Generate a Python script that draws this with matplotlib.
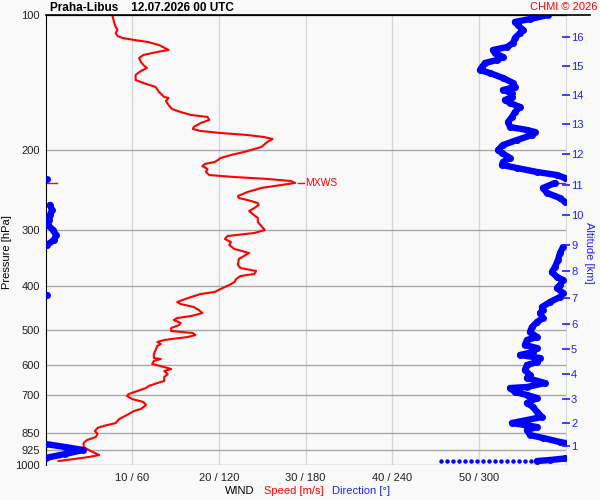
import numpy as np
import matplotlib

matplotlib.use("Agg")
import matplotlib.pyplot as plt
from matplotlib.lines import Line2D
from matplotlib.ticker import NullLocator, NullFormatter

plt.rcParams["font.family"] = ["Liberation Sans", "DejaVu Sans"]

# wind speed profile [hPa] / [m/s]
speed_p = [100.0, 105.3, 108.0, 109.6, 111.3, 112.5, 113.6, 114.8, 116.6, 119.6,
           120.8, 122.7, 124.6, 127.2, 129.2, 131.2, 133.2, 135.9, 139.5, 141.6,
           144.5, 148.3, 152.1, 152.9, 155.3, 158.5, 161.8, 164.3, 166.8, 168.5,
           171.1, 173.8, 177.4, 179.2, 181.0, 182.9, 184.8, 186.7, 188.6, 191.5,
           196.5, 201.6, 204.7, 207.9, 210.0, 212.2, 214.3, 216.5, 219.9, 223.3,
           226.8, 229.1, 231.4, 233.8, 236.2, 238.7, 242.3, 247.4, 252.5, 255.1,
           257.7, 261.7, 264.4, 268.5, 272.6, 276.8, 282.6, 288.4, 294.4, 300.5,
           305.1, 309.8, 314.6, 319.5, 324.4, 331.1, 338.0, 348.5, 359.4, 365.0,
           370.6, 376.3, 380.2, 386.1, 392.1, 398.1, 406.4, 412.6, 416.9, 423.3,
           429.9, 434.3, 438.8, 445.6, 452.5, 459.5, 466.6, 471.4, 476.2, 483.6,
           488.6, 496.1, 503.8, 509.0, 514.2, 519.5, 527.5, 533.0, 538.4, 544.0,
           555.2, 566.7, 578.4, 581.4, 587.4, 596.5, 605.7, 611.9, 618.2, 627.8,
           637.5, 650.7, 657.4, 667.5, 674.4, 684.8, 695.4, 702.6, 713.5, 724.5,
           735.7, 750.9, 758.7, 774.3, 790.4, 806.7, 819.1, 827.5, 840.3, 853.4,
           866.5, 879.9, 893.5, 912.0, 930.9, 950.1, 959.9, 969.8, 979.8]
speed = [7.7, 8.0, 8.3, 8.1, 8.3, 8.9, 10.2, 11.8, 13.1, 14.2,
         12.9, 11.3, 10.8, 11.0, 11.3, 11.7, 11.0, 10.4, 10.4, 11.3,
         12.7, 13.1, 13.7, 14.2, 13.9, 14.2, 14.6, 15.6, 16.8, 18.7,
         18.9, 17.9, 17.1, 17.0, 17.9, 20.2, 23.3, 25.2, 26.2, 25.6,
         24.9, 22.9, 21.4, 20.2, 19.9, 19.5, 18.4, 18.1, 18.7, 18.5,
         18.9, 21.8, 25.6, 28.3, 28.8, 27.2, 24.9, 23.3, 22.2, 22.3,
         23.3, 24.5, 24.6, 24.1, 23.5, 23.9, 24.5, 24.5, 24.9, 25.3,
         24.1, 21.0, 20.7, 21.4, 21.2, 21.8, 23.5, 22.3, 22.2, 22.5,
         24.3, 24.1, 22.5, 22.0, 21.8, 21.2, 20.2, 19.5, 17.9, 16.8,
         15.8, 15.2, 15.6, 17.1, 17.7, 18.1, 16.8, 15.2, 14.8, 15.6,
         15.4, 14.5, 14.5, 17.0, 17.3, 16.4, 13.7, 12.9, 13.3, 12.9,
         12.7, 12.5, 12.5, 13.3, 12.5, 12.3, 13.7, 14.5, 13.7, 14.1,
         13.7, 13.7, 12.9, 11.9, 11.6, 10.6, 9.6, 9.4, 10.0, 11.3,
         11.6, 11.0, 10.2, 9.4, 8.5, 8.1, 6.7, 6.0, 5.7, 6.0,
         5.8, 4.8, 4.4, 4.4, 5.2, 6.2, 5.0, 3.3, 1.5]

# wind direction profile [hPa] / [deg]
dir_p = [100.0, 102.1, 103.6, 105.3, 108.0, 109.6, 112.5, 115.4, 117.8, 119.6,
         121.5, 124.0, 125.9, 127.8, 130.5, 132.5, 134.6, 138.0, 141.6, 144.5,
         146.8, 149.1, 152.1, 154.5, 156.9, 160.1, 164.3, 168.5, 172.9, 177.4,
         180.1, 182.0, 184.8, 189.6, 194.5, 199.5, 202.6, 207.9, 212.2, 215.4,
         218.8, 223.3, 226.8, 230.3, 231.2, 236.2, 242.3, 248.6, 255.1, 260.4,
         264.4, 271.2, 278.3, 285.5, 292.9, 300.5, 308.3, 316.2, 324.4, 327.8,
         338.0, 350.3, 363.1, 372.5, 382.2, 388.1, 398.1, 404.3, 414.8, 419.0,
         423.3, 434.3, 445.6, 452.5, 459.5, 471.4, 481.1, 493.6, 506.4, 519.5,
         527.5, 541.2, 549.6, 560.9, 569.6, 578.4, 590.4, 599.5, 615.1, 631.0,
         640.8, 657.4, 671.0, 674.4, 688.3, 699.0, 709.8, 728.2, 743.3, 762.5,
         782.2, 794.4, 806.7, 823.4, 836.0, 857.7, 871.0, 889.0, 893.5, 898.1,
         912.0, 926.1, 945.3, 964.8, 967.0, 974.8, 979.8]
direction = [347.9, 335.4, 325.0, 327.1, 330.6, 328.5, 325.0, 323.7, 319.5, 309.8,
             311.2, 316.7, 312.6, 304.3, 302.2, 300.8, 307.7, 316.7, 323.7, 325.0,
             316.7, 323.0, 323.0, 318.1, 321.6, 328.5, 325.0, 323.0, 320.2, 321.6,
             333.3, 338.9, 336.8, 326.4, 316.7, 313.3, 316.0, 321.6, 316.7, 316.0,
             326.4, 340.3, 354.1, 359.7, 1.0, 352.7, 344.4, 347.2, 356.2, 359.7,
             3.1, 4.5, 3.1, 2.4, 1.7, 5.2, 7.3, 5.9, 1.0, 358.3,
             356.2, 354.8, 352.7, 350.6, 354.1, 358.3, 356.2, 354.1, 358.3, 0.7,
             356.2, 349.3, 343.7, 344.4, 342.4, 344.4, 340.3, 336.8, 335.4, 340.3,
             333.3, 331.9, 340.3, 337.5, 328.5, 342.4, 340.3, 333.3, 331.9, 335.4,
             333.3, 345.8, 333.3, 321.6, 325.0, 333.3, 340.3, 333.3, 337.5, 340.3,
             343.7, 333.3, 322.9, 340.3, 333.3, 335.4, 344.4, 356.2, 359.7, 0.0,
             13.5, 26.0, 13.5, 0.0, 359.7, 349.3, 340.3]

# surface level directions
surface_p = 979.8
surface_dir = [273.8, 278.0, 282.1, 286.3, 290.5, 294.6, 298.8, 302.9,
               307.0, 311.2, 315.3, 319.5, 323.6, 327.8, 332.0, 336.1]

pressure_ticks = [100, 200, 300, 400, 500, 600, 700, 850, 925, 1000]
speed_ticks = [10, 20, 30, 40, 50]
speed_labels = ["10 / 60", "20 / 120", "30 / 180", "40 / 240", "50 / 300"]
alt_km = list(range(1, 17))
alt_p = [907.4, 805.4, 713.5, 627.8, 553.2, 486.1, 426.2, 370.0,
         324.4, 278.3, 238.7, 204.0, 174.9, 150.6, 129.8, 111.7]

BG = "#f9f9f9"
RED = "#ff0000"
BLUE = "#0000ff"
LBLUE = "#2020ff"

fig = plt.figure(figsize=(6, 5), dpi=100, facecolor=BG)
ax = fig.add_axes([45.5 / 600, 35 / 500, 520 / 600, 450 / 500], facecolor=BG)
ax.set_yscale("log")
ax.set_xlim(0, 60)

# direction on its own 0-360 scale, altitude on the right
ax2 = ax.twiny()
ax3 = ax.twinx()

ax.set_ylim(1000, 100)
ax.yaxis.set_minor_locator(NullLocator())
ax.yaxis.set_minor_formatter(NullFormatter())
ax.set_yticks(pressure_ticks)
ax.set_yticklabels([str(p) for p in pressure_ticks])
ax.set_xticks(speed_ticks)
ax.set_xticklabels(speed_labels)
ax.tick_params(axis="both", which="both", length=0, labelsize=8, colors="#202020")
ax.tick_params(axis="y", pad=4)
ax.tick_params(axis="x", pad=6)
ax.set_axisbelow(True)
ax.grid(axis="y", which="major", color="#a8a8a8", lw=1.0)
ax.grid(axis="x", color="#d8d8d8", lw=1.0)
ax.spines["bottom"].set_visible(False)
ax.spines["right"].set_color("#d8d8d8")
ax.spines["left"].set_color("black")
ax.spines["top"].set_color("black")

# speed
ax.plot(speed, speed_p, color=RED, lw=1.5)

# max wind marker
imax = int(np.argmax(speed))
smax, pmax = speed[imax], speed_p[imax]
trans = ax.get_yaxis_transform()
ax.plot([0, 0.022], [pmax, pmax], color=RED, lw=1, transform=trans, clip_on=False)
ax.plot([0.978, 1.0], [pmax, pmax], color=RED, lw=1, transform=trans, clip_on=False)
ax.plot([smax + 0.3, smax + 1.0], [pmax, pmax], color=RED, lw=1)
ax.text(smax + 1.2, pmax, "MXWS", color=RED, fontsize=7.5, va="center", ha="left")

ax2.set_xlim(0, 360)
ax2.set_xticks([])
for s in ax2.spines.values():
    s.set_visible(False)

d = np.array(direction, dtype=float)
pp = np.array(dir_p, dtype=float)
breaks = np.where(np.abs(np.diff(d)) > 180)[0] + 1
d_plot = np.insert(d, breaks, np.nan)
p_plot = np.insert(pp, breaks, np.nan)
ax2.plot(d_plot, p_plot, color=BLUE, lw=4.6, marker="o", ms=5.0, mew=0,
         solid_capstyle="round", solid_joinstyle="round")
ax2.plot(surface_dir, [surface_p] * len(surface_dir), "o", color=BLUE, ms=3.2, mew=0)

ax3.set_yscale("log")
ax3.set_ylim(1000, 100)
ax3.yaxis.set_minor_locator(NullLocator())
ax3.yaxis.set_minor_formatter(NullFormatter())
ax3.set_yticks(alt_p)
ax3.set_yticklabels([str(a) for a in alt_km])
ax3.tick_params(axis="y", direction="inout", length=6, width=1.2, color=LBLUE,
                labelcolor=LBLUE, labelsize=8, pad=1)
for s in ax3.spines.values():
    s.set_visible(False)

# keep the shared pressure axis limits after twin setup
ax.set_ylim(1000, 100)

# extension of the top frame line
fig.add_artist(Line2D([45.5 / 600, 590 / 600], [1 - 15 / 500, 1 - 15 / 500],
                      color="black", lw=1.2))

fig.text(50 / 600, 1 - 8 / 500, "Praha-Libus    12.07.2026 00 UTC",
         fontsize=8.5, fontweight="bold", va="center", ha="left")
fig.text(597 / 600, 1 - 7 / 500, "CHMI \u00a9 2026", color=RED,
         fontsize=8, va="center", ha="right")
fig.text(7 / 600, 1 - 252 / 500, "Pressure [hPa]", rotation=90,
         fontsize=8, va="center", ha="center")
fig.text(589 / 600, 1 - 253 / 500, "Altitude [km]", rotation=270, color=LBLUE,
         fontsize=8, va="center", ha="center")
fig.text(225 / 600, 1 - 491 / 500, "WIND", fontsize=8, va="center", ha="left")
fig.text(264 / 600, 1 - 491 / 500, "Speed [m/s]", color=RED, fontsize=8,
         va="center", ha="left")
fig.text(332 / 600, 1 - 491 / 500, "Direction [\u00b0]", color=LBLUE,
         fontsize=8, va="center", ha="left")

fig.savefig("out.png", dpi=100, facecolor=BG)
plt.close(fig)
